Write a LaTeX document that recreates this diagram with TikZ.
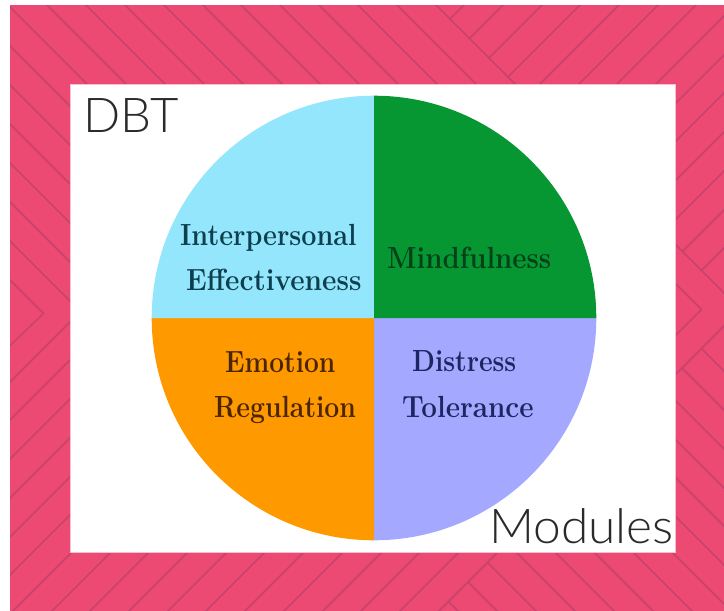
\documentclass[tikz,border=0pt]{standalone}
\usepackage{fontspec}
\usepackage{graphicx}
\setmainfont{Latin Modern Roman}
\newfontfamily\headfont{Lato Light}
\definecolor{pinkbg}{HTML}{EC4A73}
\definecolor{pinkline}{HTML}{C8436C}
\definecolor{skyq}{HTML}{93E6FB}
\definecolor{greenq}{HTML}{069733}
\definecolor{orangeq}{HTML}{FF9900}
\definecolor{lavq}{HTML}{A5A8FF}
\definecolor{skytxt}{HTML}{0D3F4F}
\definecolor{greentxt}{HTML}{04401A}
\definecolor{orangetxt}{HTML}{4A2500}
\definecolor{lavtxt}{HTML}{1F2560}
\definecolor{headtxt}{HTML}{2A2A2A}
\newcommand{\modtext}[2]{\scalebox{#1}[1.33]{#2}}
\tikzset{
  hatch/.style={pinkline,line width=1.5pt},
  module/.style={inner sep=0pt,anchor=base west,font=\fontsize{23}{23}\selectfont\bfseries},
  headline/.style={inner sep=0pt,anchor=base west,text=headtxt,font=\headfont\fontsize{48}{48}\selectfont}
}
\begin{document}
\begin{tikzpicture}[x=1pt,y=-1pt]
\useasboundingbox (0,0) rectangle (724,611);
\fill[pinkbg] (10,5) rectangle (724,611);
\begin{scope}
\clip (10,5) rectangle (724,611);
% upper family, running down to the right
\foreach \c in {353,314,275,236,198,159,120,81,42,3,-36,-75,-114,-153,-192,-231}
  \draw[hatch] (-50,-50-\c) -- ({(600+\c)/2},{(600-\c)/2});
\draw[hatch] (-50,-481) -- (780,349);
\draw[hatch] (-50,-442) -- (701.5,309.5);
\draw[hatch] (-50,220) -- (43.5,313.5);
% rising family, lower left part
\draw[hatch] (-50,403) -- (43.5,313.5);
\foreach \d in {392,430,469,508,547,585,624,663,701,740,779,817,856,895,934,972}
  \draw[hatch] (-50,\d+50) -- ({(\d-100)/2},{(\d+100)/2});
% rising family, upper right part, starting on the long falling line
\foreach \d in {469,508,547,585,624,663,701,740,779,817,856,895,934,972}
  \draw[hatch] ({(\d+431)/2},{(\d-431)/2}) -- ({(\d+431)/2+200},{(\d-431)/2-200});
\draw[hatch] (-50,1061) -- (701.5,309.5);
\draw[hatch] (-50,1100) -- (780,270);
% lower right family, starting on the last rising line
\foreach \c in {353,314,275,236,198,159,120,81,42,3,-36,-75,-114,-153}
  \draw[hatch] ({(1050+\c)/2},{(1050-\c)/2}) -- (900,900-\c);
\end{scope}
\fill[white,draw=pinkbg!35] (70.5,84) rectangle (675,552);
\coordinate (hub) at (374,318);
\fill[lavq] (hub) -- (596.3,318) arc[start angle=0,end angle=90,radius=222.3] -- cycle;
\fill[orangeq] (hub) -- (374,540.3) arc[start angle=90,end angle=180,radius=222.3] -- cycle;
\fill[skyq] (hub) -- (151.7,318) arc[start angle=180,end angle=270,radius=222.3] -- cycle;
\fill[greenq] (hub) -- (374,95.7) arc[start angle=270,end angle=360,radius=222.3] -- cycle;
\node[module,text=skytxt] (inter) at (180,245) {\modtext{1.172}{Interpersonal}};
\node[module,text=skytxt] (effect) at (186,290) {\modtext{1.217}{Effectiveness}};
\node[module,text=greentxt] (mind) at (387,268) {\modtext{1.2}{Mindfulness}};
\node[module,text=orangetxt] (emot) at (225,372) {\modtext{1.146}{Emotion}};
\node[module,text=orangetxt] (regu) at (214,417) {\modtext{1.155}{Regulation}};
\node[module,text=lavtxt] (dist) at (412,371) {\modtext{1.155}{Distress}};
\node[module,text=lavtxt] (toler) at (402,417) {\modtext{1.21}{Tolerance}};
\node[headline] (dbt) at (83,132) {\scalebox{1.02}[1]{DBT}};
\node[headline] (mods) at (489,543) {\scalebox{1.034}[1]{Modules}};
\end{tikzpicture}
\end{document}
